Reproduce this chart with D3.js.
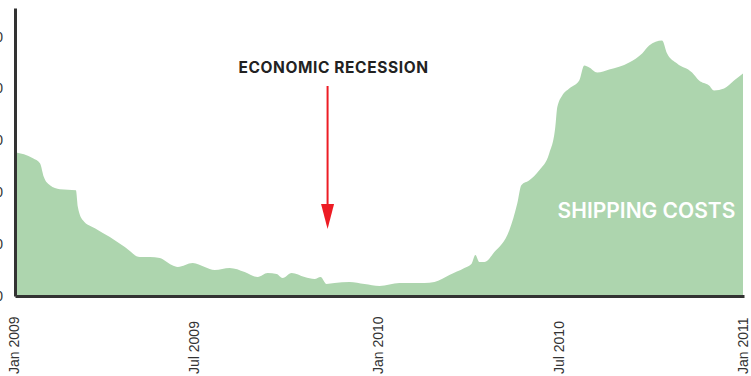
<!DOCTYPE html>
<html>
<head>
<meta charset="utf-8">
<script src="https://cdn.jsdelivr.net/npm/d3@7"></script>
<style>
  html, body { margin: 0; padding: 0; background: #fff; }
  svg { display: block; }
</style>
</head>
<body>
<svg id="chart" width="751" height="376"></svg>
<script>
// ---- data ----
const dates = [
  "2009-01-01","2009-01-19","2009-01-26","2009-01-30","2009-02-05","2009-02-15","2009-03-03","2009-03-05",
  "2009-03-10","2009-03-22","2009-04-06","2009-04-21","2009-05-06","2009-05-16","2009-05-26","2009-06-07",
  "2009-06-13","2009-06-28","2009-07-10","2009-07-20","2009-08-04","2009-08-19","2009-09-01","2009-09-11",
  "2009-09-20","2009-09-26","2009-10-05","2009-10-18","2009-10-28","2009-11-03","2009-11-09","2009-11-17",
  "2009-12-02","2009-12-17","2010-01-01","2010-01-21","2010-02-15","2010-02-25","2010-03-12","2010-03-27",
  "2010-04-03","2010-04-07","2010-04-11","2010-04-16","2010-04-26","2010-05-11","2010-05-19","2010-05-23",
  "2010-05-31","2010-06-10","2010-06-20","2010-06-26","2010-06-28","2010-07-03","2010-07-10","2010-07-20",
  "2010-07-25","2010-07-30","2010-08-07","2010-08-19","2010-09-08","2010-09-21","2010-09-28","2010-10-11",
  "2010-10-16","2010-10-26","2010-11-10","2010-11-17","2010-11-27","2010-12-02","2010-12-12","2010-12-22",
  "2010-12-31"
];
const shippingCosts = [
  2769,2654,2558,2288,2135,2058,2038,1712,
  1462,1308,1135,942,750,750,731,596,
  558,635,558,500,538,462,365,442,
  423,346,442,365,327,365,231,250,
  269,231,192,250,250,269,404,538,
  615,788,654,654,846,1269,1788,2135,
  2231,2423,2750,3250,3635,3865,4000,4154,
  4442,4404,4308,4365,4500,4673,4827,4923,
  4673,4481,4308,4154,4058,3962,4000,4154,
  4288
];
const yTicks = [0, 1000, 2000, 3000, 4000, 5000];
const xTickDates = ["2009-01-01","2009-07-01","2010-01-01","2010-07-01","2011-01-01"];
const xTickLabels = ["Jan 2009","Jul 2009","Jan 2010","Jul 2010","Jan 2011"];
const yMax = 5550;
const annotationText = "ECONOMIC RECESSION";
const annotationDate = "2009-11-10";
const seriesLabel = "SHIPPING COSTS";

// ---- drawing ----
(function () {
const parse = d3.utcParse("%Y-%m-%d");
const data = dates.map((d, i) => ({ date: parse(d), value: shippingCosts[i] }));

const svg = d3.select("#chart");
const mLeft = 15, mRight = 744, mTop = 8, mBottom = 296;

const x = d3.scaleUtc()
  .domain([parse("2009-01-01"), parse("2011-01-01")])
  .range([mLeft, mRight]);
const y = d3.scaleLinear().domain([0, yMax]).range([mBottom, mTop]);

const area = d3.area()
  .x(d => x(d.date))
  .y0(y(0))
  .y1(d => y(d.value))
  .curve(d3.curveMonotoneX);

svg.append("path")
  .datum(data)
  .attr("d", area)
  .attr("fill", "#add5ae");

// y axis
const yAxis = svg.append("g")
  .attr("transform", `translate(${mLeft},0)`)
  .call(d3.axisLeft(y).tickValues(yTicks).tickSize(0).tickPadding(12).tickSizeOuter(0));
yAxis.select(".domain").attr("stroke", "#333").attr("stroke-width", 3);
yAxis.selectAll("text")
  .attr("font-family", "Liberation Sans, Arial, sans-serif")
  .attr("font-size", 14)
  .attr("fill", "#333");

// x axis
const xAxis = svg.append("g")
  .attr("transform", `translate(0,${mBottom})`)
  .call(d3.axisBottom(x)
    .tickValues(xTickDates.map(parse))
    .tickFormat((d, i) => xTickLabels[i])
    .tickSize(0).tickSizeOuter(0));
xAxis.select(".domain").attr("stroke", "#333").attr("stroke-width", 3);
xAxis.selectAll("text")
  .attr("font-family", "Liberation Sans, Arial, sans-serif")
  .attr("font-size", 14)
  .attr("fill", "#333")
  .attr("text-anchor", "start")
  .attr("transform", "rotate(-90)")
  .attr("x", -78)
  .attr("y", 0)
  .attr("dy", 3);

// annotation
const ax = x(parse(annotationDate));
svg.append("text")
  .attr("x", 333.5)
  .attr("y", 73)
  .attr("text-anchor", "middle")
  .attr("font-family", "Inter, Lato, sans-serif")
  .attr("font-weight", 700)
  .attr("font-size", 15.5)
  .attr("letter-spacing", 0.6)
  .attr("fill", "#222")
  .text(annotationText);

svg.append("line")
  .attr("x1", ax).attr("x2", ax)
  .attr("y1", 86).attr("y2", 206)
  .attr("stroke", "#ed1c24")
  .attr("stroke-width", 2);
svg.append("path")
  .attr("d", `M${ax - 6.5},204 L${ax + 6.5},204 L${ax},229 Z`)
  .attr("fill", "#ed1c24");

svg.append("text")
  .attr("x", 646.5)
  .attr("y", 218)
  .attr("text-anchor", "middle")
  .attr("font-family", "Inter, Lato, sans-serif")
  .attr("font-weight", 600)
  .attr("font-size", 21)
  .attr("fill", "#fff")
  .text(seriesLabel);
})();
</script>
</body>
</html>
